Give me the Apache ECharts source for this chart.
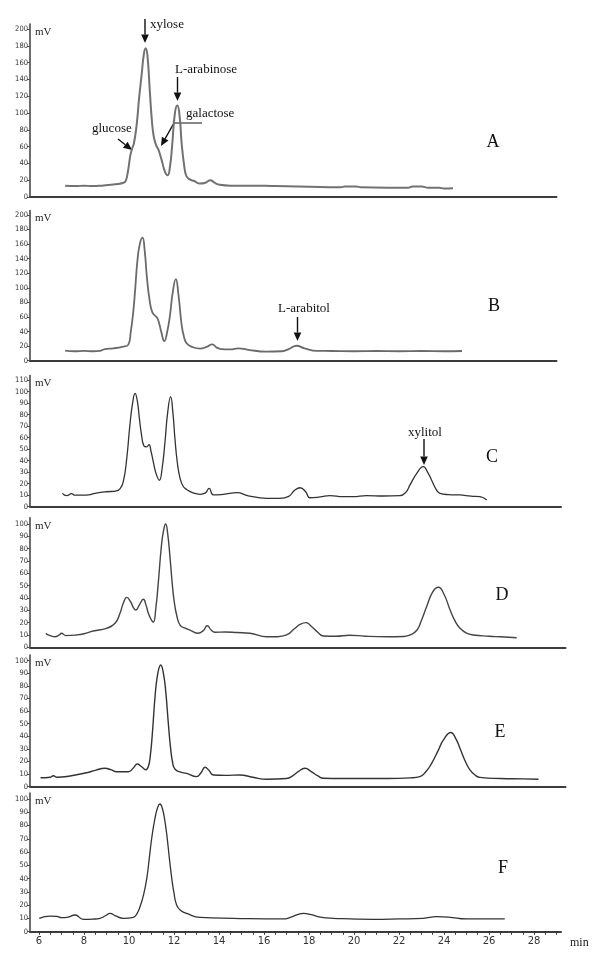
<!DOCTYPE html>
<html lang="en">
<head>
  <meta charset="UTF-8">
  <title>HPLC chromatograms A-F</title>
  <style>
    html, body { margin: 0; padding: 0; background: #fff; }
    #main { width: 600px; height: 958px; }
  </style>
</head>
<body>
<div id="main"></div>
<script src="https://cdn.jsdelivr.net/npm/echarts@6/dist/echarts.min.js"></script>
<script type="text/javascript">
// retention time (min), signal (mV)
var traceA = [[7.16,13.5],[7.6,13],[8.0,13.5],[8.4,13],[8.8,13.5],[9.2,14.5],[9.5,15.5],[9.75,17],[9.85,19],[9.95,30],[10.05,48],[10.13,57],[10.22,64],[10.34,86],[10.45,118],[10.56,145],[10.66,170],[10.74,177],[10.82,168],[10.93,124],[11.02,90],[11.1,72],[11.2,62],[11.3,57],[11.45,44],[11.6,30],[11.72,26],[11.82,36],[11.92,62],[12.04,100],[12.15,109],[12.25,96],[12.34,64],[12.45,38],[12.55,25],[12.7,21],[12.9,19],[13.15,16],[13.4,17],[13.62,20],[13.8,17],[14.04,14.5],[14.5,13.5],[15.5,13.5],[16.5,13],[17.5,12.5],[18.5,12],[19.4,11.5],[19.6,12.5],[20.1,12.5],[20.3,11.5],[21.5,11],[22.4,11],[22.6,12.5],[23,12.5],[23.3,11],[23.8,11],[24.0,10],[24.4,10.5]];
var traceB = [[7.16,13.7],[7.6,13],[8.0,13.5],[8.4,13],[8.7,13.5],[8.93,16],[9.3,17],[9.7,19],[9.97,22],[10.08,40],[10.19,67],[10.28,100],[10.37,136],[10.48,160],[10.6,169],[10.7,150],[10.8,113],[10.92,82],[11.03,67],[11.15,62],[11.25,59],[11.35,50],[11.43,40],[11.57,27],[11.7,40],[11.82,62],[11.95,95],[12.08,112],[12.2,90],[12.34,49],[12.45,32],[12.56,24],[12.8,19],[13.16,16.5],[13.45,19],[13.7,22.5],[13.9,18],[14.1,16],[14.5,15.5],[14.86,17],[15.3,15],[16.1,12.5],[16.8,13],[17.1,16],[17.45,20.5],[17.8,17],[18.35,13.5],[19,13.3],[20,13],[21,13.3],[22,13],[23,13.3],[24,13],[24.8,13.3]];
var traceC = [[7.04,11.6],[7.23,9.6],[7.45,11.3],[7.6,10],[8.0,10],[8.2,10.2],[8.49,11.6],[9.01,13],[9.4,13.5],[9.6,15.5],[9.75,22],[9.9,42],[10.04,71],[10.16,90],[10.27,98.6],[10.37,92],[10.46,77],[10.56,62],[10.66,53],[10.78,52],[10.89,54],[10.98,48],[11.08,39],[11.2,29],[11.35,23],[11.47,33],[11.6,56.5],[11.72,82],[11.85,95.7],[11.95,82],[12.04,59.5],[12.15,38],[12.27,24.7],[12.4,18],[12.56,15],[12.85,12],[13.16,10.8],[13.4,12],[13.56,16],[13.75,10.2],[14.2,10.8],[14.81,12.2],[15.3,9.5],[16.12,7.3],[16.7,7.3],[17.1,9],[17.35,14],[17.6,16.5],[17.85,13],[18.04,7.8],[18.5,8.5],[18.93,9.6],[19.5,8.7],[19.96,8.7],[20.56,9.6],[21.3,9.3],[22.04,9.6],[22.3,12.5],[22.49,19],[22.79,29],[23.08,34.8],[23.3,29],[23.45,23],[23.65,15],[23.82,11.6],[24.2,10.5],[24.7,10.2],[25.2,9.2],[25.6,8.7],[25.9,5.8]];
var traceD = [[6.31,11.4],[6.41,10],[6.71,8.6],[6.9,10],[7.0,11.4],[7.2,9.5],[7.67,10],[8.0,11],[8.41,13.2],[9.0,15.4],[9.38,19.5],[9.6,27.6],[9.75,36],[9.9,40.5],[10.07,37],[10.2,32],[10.3,30.2],[10.45,34],[10.64,38.9],[10.76,34],[10.86,27.6],[11.0,22],[11.08,20.3],[11.2,33],[11.3,52],[11.45,84],[11.55,96],[11.63,100],[11.72,92],[11.82,73.5],[11.92,52],[12.0,38.4],[12.12,26],[12.27,18],[12.5,15.5],[12.71,14],[13.08,11.4],[13.3,13.5],[13.48,17.5],[13.65,14],[13.82,12.2],[14.27,12.4],[14.8,12],[15.38,11.4],[16.12,8.6],[16.6,8.6],[17.0,10],[17.35,15],[17.6,18.5],[17.87,20],[18.1,17],[18.4,12],[18.64,9.2],[19.2,9],[19.8,9.8],[20.5,9],[21.5,8.6],[22.2,8.8],[22.5,10],[22.8,14],[23.0,22],[23.23,33],[23.5,45],[23.75,48.7],[24.0,43],[24.27,30.3],[24.5,21],[24.71,15.4],[25.0,11.5],[25.3,10],[26,9],[26.5,8.5],[27.23,7.8]];
var traceE = [[6.07,7.1],[6.49,7.5],[6.64,8.7],[6.8,7.5],[7.38,8.5],[8.12,11.1],[8.5,13],[8.93,14.6],[9.2,13.5],[9.45,11.9],[9.97,11.9],[10.2,15],[10.37,18],[10.55,16],[10.75,13.5],[10.86,16],[10.95,25],[11.05,45],[11.16,72],[11.28,90],[11.41,96.6],[11.53,90],[11.64,74],[11.74,52],[11.84,32],[11.94,19],[12.04,14],[12.3,11.5],[12.56,10.6],[13.0,8],[13.2,11],[13.38,15.4],[13.55,13],[13.75,9.3],[14.3,9],[14.93,9.3],[15.5,7.5],[16.12,5.9],[17.0,6.5],[17.3,9],[17.52,12],[17.82,14.6],[18.1,12],[18.4,8.5],[18.64,6.7],[19.5,6.5],[20.5,6.5],[21.5,6.5],[22.5,7],[22.93,8],[23.2,12],[23.45,18.5],[23.75,29],[23.97,37],[24.31,43],[24.5,39],[24.71,30.5],[24.95,20],[25.16,13.2],[25.4,9],[25.6,7.4],[26.5,6.5],[27.5,6.2],[28.2,5.9]];
var traceF = [[6.01,10.1],[6.49,11.8],[6.8,11.5],[7.0,10.6],[7.3,11],[7.6,12.6],[7.97,9.3],[8.4,9.5],[8.71,10.1],[8.95,12],[9.16,13.8],[9.4,12],[9.75,10.1],[10.19,10.8],[10.35,13.5],[10.49,18.8],[10.65,28],[10.79,40.2],[10.9,55],[11.01,70.4],[11.15,85],[11.28,94],[11.38,96.2],[11.48,93],[11.58,85],[11.68,72.9],[11.79,56],[11.9,40.2],[12.0,29],[12.12,20],[12.3,16],[12.56,13.8],[13.16,10.8],[14.64,10.1],[16.86,9.6],[17.2,11],[17.45,12.6],[17.75,13.8],[18.1,12.8],[18.5,11],[19.08,10.1],[20.86,9.3],[22.0,9.6],[23.08,10.1],[23.67,11.3],[24.2,11],[25.0,9.6],[26.7,9.6]];

// axis tick labels
var yTicks200 = [0, 20, 40, 60, 80, 100, 120, 140, 160, 180, 200];
var yTicks110 = [0, 10, 20, 30, 40, 50, 60, 70, 80, 90, 100, 110];
var yTicks100 = [0, 10, 20, 30, 40, 50, 60, 70, 80, 90, 100];
var xTicks = [6, 8, 10, 12, 14, 16, 18, 20, 22, 24, 26, 28];
var xMinorTicks = [];
for (var m = 6; m <= 29; m += 0.5) xMinorTicks.push(m);

var panelNames = ['A', 'B', 'C', 'D', 'E', 'F'];
var traces = [traceA, traceB, traceC, traceD, traceE, traceF];
var yTickSets = [yTicks200, yTicks200, yTicks110, yTicks100, yTicks100, yTicks100];

// layout (pixels): top of axis, y of zero line, axis max, line look
var layout = [
  {top: 24,    zero: 197,   yMax: 206, xMax: 29.0, color: '#727272', width: 2.0, letter: [493, 142]},
  {top: 210.6, zero: 360.7, yMax: 206, xMax: 29.0, color: '#6a6a6a', width: 1.8, letter: [494, 306]},
  {top: 375.6, zero: 506.7, yMax: 114, xMax: 29.2, color: '#333333', width: 1.3, letter: [492, 457]},
  {top: 517.8, zero: 647.3, yMax: 105, xMax: 29.4, color: '#444444', width: 1.4, letter: [502, 595]},
  {top: 655,   zero: 786.7, yMax: 104.5, xMax: 29.4, color: '#333333', width: 1.4, letter: [500, 732]},
  {top: 793,   zero: 931.7, yMax: 104.5, xMax: 29.2, color: '#333333', width: 1.3, letter: [503, 868]}
];
var X_MIN = 5.6, PX_PER_MIN = 22.5, LEFT = 30;

var grids = [], xAxes = [], yAxes = [], series = [], graphics = [];
var narrow = '"Liberation Sans Narrow", "DejaVu Sans Condensed", Arial, sans-serif';
var serif = '"Liberation Serif", "DejaVu Serif", serif';

for (var i = 0; i < 6; i++) {
  var L = layout[i];
  var last = (i === 5);
  grids.push({
    left: LEFT,
    top: L.top,
    width: (L.xMax - X_MIN) * PX_PER_MIN,
    height: L.zero - L.top
  });
  xAxes.push({
    type: 'value', gridIndex: i, min: X_MIN, max: L.xMax,
    axisLine: {show: true, onZero: false, lineStyle: {color: '#3c3c3c', width: 2}},
    axisTick: {show: last, customValues: xMinorTicks, length: 3, lineStyle: {color: '#333', width: 1}},
    axisLabel: {show: last, customValues: xTicks, margin: 5, color: '#333', fontSize: 10,
      fontFamily: '"DejaVu Sans", Verdana, sans-serif'},
    splitLine: {show: false}
  });
  yAxes.push({
    type: 'value', gridIndex: i, min: 0, max: L.yMax,
    axisLine: {show: true, lineStyle: {color: '#3c3c3c', width: 1.5}},
    axisTick: {show: true, customValues: yTickSets[i], length: 3, lineStyle: {color: '#555', width: 1}},
    axisLabel: {customValues: yTickSets[i], margin: 2, color: '#333', fontSize: 7.5, fontFamily: narrow},
    splitLine: {show: false}
  });
  series.push({
    type: 'line', xAxisIndex: i, yAxisIndex: i,
    data: traces[i], showSymbol: false, symbol: 'none',
    smooth: 0.5,
    lineStyle: {color: L.color, width: L.width}
  });
  // panel letter
  graphics.push({type: 'text', x: L.letter[0], y: L.letter[1],
    style: {text: panelNames[i], font: '18px ' + serif, fill: '#111', align: 'center', verticalAlign: 'middle'}});
  // mV unit
  graphics.push({type: 'text', x: 35, y: L.top + 8,
    style: {text: 'mV', font: '11px ' + serif, fill: '#222', align: 'left', verticalAlign: 'middle'}});
}

function label(txt, x, y) {
  graphics.push({type: 'text', x: x, y: y,
    style: {text: txt, font: '13px ' + serif, fill: '#111', align: 'left', verticalAlign: 'middle'}});
}
function arrow(x1, y1, x2, y2) {
  var dx = x2 - x1, dy = y2 - y1, len = Math.sqrt(dx * dx + dy * dy);
  var ux = dx / len, uy = dy / len, hl = 8.5, hw = 3.8;
  var bx = x2 - ux * hl, by = y2 - uy * hl;
  graphics.push({type: 'line', shape: {x1: x1, y1: y1, x2: bx, y2: by},
    style: {stroke: '#111', lineWidth: 1.4}});
  graphics.push({type: 'polygon', shape: {points: [[x2, y2], [bx - uy * hw, by + ux * hw], [bx + uy * hw, by - ux * hw]]},
    style: {fill: '#111'}});
}

// peak labels
label('xylose', 150, 25);   arrow(145, 19, 145, 43);
label('L-arabinose', 175, 70); arrow(177.5, 77, 177.5, 101);
label('galactose', 186, 114);
graphics.push({type: 'line', shape: {x1: 174, y1: 123, x2: 202, y2: 123}, style: {stroke: '#111', lineWidth: 1}});
arrow(174, 123, 161, 146);
label('glucose', 92, 129);  arrow(118, 139, 132, 150);
label('L-arabitol', 278, 309); arrow(297.5, 317, 297.5, 341);
label('xylitol', 408, 433);  arrow(424, 439, 424, 465);
// x unit
graphics.push({type: 'text', x: 570, y: 943,
  style: {text: 'min', font: '12px ' + serif, fill: '#222', align: 'left', verticalAlign: 'middle'}});

var myChart = echarts.init(document.getElementById('main'), null, {renderer: 'canvas'});
var option = {
  backgroundColor: '#fff',
  animation: false,
  grid: grids,
  xAxis: xAxes,
  yAxis: yAxes,
  series: series,
  graphic: graphics
};
myChart.setOption(option);
</script>
</body>
</html>
